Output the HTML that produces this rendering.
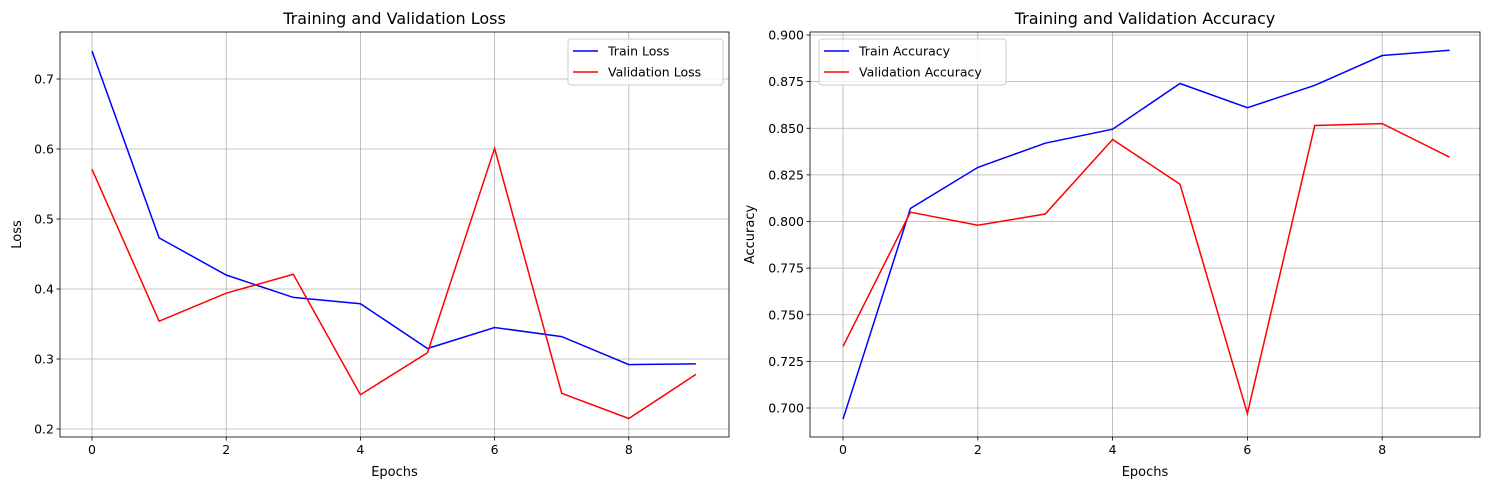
<!DOCTYPE html>
<html><head><meta charset="utf-8"><style>
html,body{margin:0;padding:0;background:#fff;}
svg{display:block;font-family:"DejaVu Sans","Liberation Sans",sans-serif;}
</style></head><body>
<svg id="fig" width="1490" height="490" viewBox="0 0 1490 490" xmlns="http://www.w3.org/2000/svg"></svg>
<script>
const epochs = [0,1,2,3,4,5,6,7,8,9];
const trainLoss = [0.740,0.473,0.420,0.388,0.379,0.315,0.345,0.332,0.292,0.293];
const valLoss = [0.571,0.354,0.394,0.421,0.249,0.309,0.601,0.251,0.215,0.278];
const trainAcc = [0.694,0.807,0.829,0.842,0.8495,0.874,0.861,0.873,0.889,0.8918];
const valAcc = [0.733,0.805,0.798,0.804,0.844,0.820,0.697,0.8515,0.8525,0.8345];
const xTicks = [0,2,4,6,8];
const lossTicks = [0.2,0.3,0.4,0.5,0.6,0.7];
const accTicks = [0.700,0.725,0.750,0.775,0.800,0.825,0.850,0.875,0.900];

const NS="http://www.w3.org/2000/svg";
const svg=document.getElementById('fig');
function mk(tag,attrs,parent){const e=document.createElementNS(NS,tag);for(const k in attrs)e.setAttribute(k,attrs[k]);(parent||svg).appendChild(e);return e;}

function panel(cfg){
  const g=mk('g',{});
  
  
  const L=cfg.left,R=cfg.right,T=32,B=437;
  const xs=v=>cfg.x0px+(v-0)*cfg.xStep;
  const ys=v=>cfg.y0px-(v-cfg.y0)*cfg.yScale;
  // grid
  xTicks.forEach(t=>{const l=mk('line',{x1:xs(t),x2:xs(t),y1:T,y2:B,stroke:'#b0b0b0','stroke-width':0.8},g);
    });
  cfg.yTicks.forEach(t=>{const l=mk('line',{x1:L,x2:R,y1:ys(t),y2:ys(t),stroke:'#b0b0b0','stroke-width':0.8},g);
    });
  // series
  cfg.series.forEach(s=>{
    const p=mk('polyline',{points:epochs.map((e,i)=>xs(e)+','+ys(s.data[i])).join(' '),fill:'none',stroke:s.color,'stroke-width':1.5},g);
    
  });
  // frame
  const f=mk('rect',{x:L,y:T,width:R-L,height:B-T,fill:'none',stroke:'#000','stroke-width':0.8},g);
  
  // ticks
  xTicks.forEach(t=>{mk('line',{x1:xs(t),x2:xs(t),y1:B,y2:B+3.5,stroke:'#000','stroke-width':0.8},g);
    const tx=mk('text',{x:xs(t),y:B+17,'font-size':12.5,'text-anchor':'middle'},g);tx.textContent=t;
    });
  cfg.yTicks.forEach(t=>{mk('line',{x1:L-3.5,x2:L,y1:ys(t),y2:ys(t),stroke:'#000','stroke-width':0.8},g);
    const tx=mk('text',{x:L-6,y:ys(t)+4.5,'font-size':12.5,'text-anchor':'end'},g);tx.textContent=t.toFixed(cfg.dec);
    });
  const title=mk('text',{x:(L+R)/2,y:T-8,'font-size':16,'text-anchor':'middle'},g);title.textContent=cfg.title;
  
  const xl=mk('text',{x:(L+R)/2,y:476,'font-size':13,'text-anchor':'middle'},g);xl.textContent='Epochs';
  
  const yl=mk('text',{x:0,y:0,'font-size':13,'text-anchor':'middle',transform:`translate(${cfg.ylx},${(T+B)/2}) rotate(-90)`},g);yl.textContent=cfg.ylabel;
  
  // legend
  const lg=mk('g',{},g);
  mk('rect',{x:cfg.lx,y:39,width:cfg.lw,height:46,rx:3,fill:'#fff','fill-opacity':0.8,stroke:'#ccc','stroke-width':1},lg);
  cfg.series.forEach((s,i)=>{
    const y=51+i*21;
    const e=mk('g',{},lg);
    mk('line',{x1:cfg.lx+5,x2:cfg.lx+30,y1:y,y2:y,stroke:s.color,'stroke-width':1.5},e);
    const t=mk('text',{x:cfg.lx+40,y:y+4.5,'font-size':12.5},e);t.textContent=s.label;
  });
}
panel({name:'loss-chart',left:60,right:729,x0px:92,xStep:67.1,y0:0.2,y0px:429,yScale:700,yTicks:lossTicks,dec:1,
  title:'Training and Validation Loss',ylabel:'Loss',ylx:21,lx:568,lw:155,
  series:[{id:'train-loss-line',label:'Train Loss',color:'#0000ff',data:trainLoss},{id:'validation-loss-line',label:'Validation Loss',color:'#ff0000',data:valLoss}]});
panel({name:'accuracy-chart',left:810,right:1480,x0px:843,xStep:67.4,y0:0.7,y0px:408,yScale:1865,yTicks:accTicks,dec:3,
  title:'Training and Validation Accuracy',ylabel:'Accuracy',ylx:754,lx:819,lw:187,
  series:[{id:'train-accuracy-line',label:'Train Accuracy',color:'#0000ff',data:trainAcc},{id:'validation-accuracy-line',label:'Validation Accuracy',color:'#ff0000',data:valAcc}]});
</script>
</body></html>
